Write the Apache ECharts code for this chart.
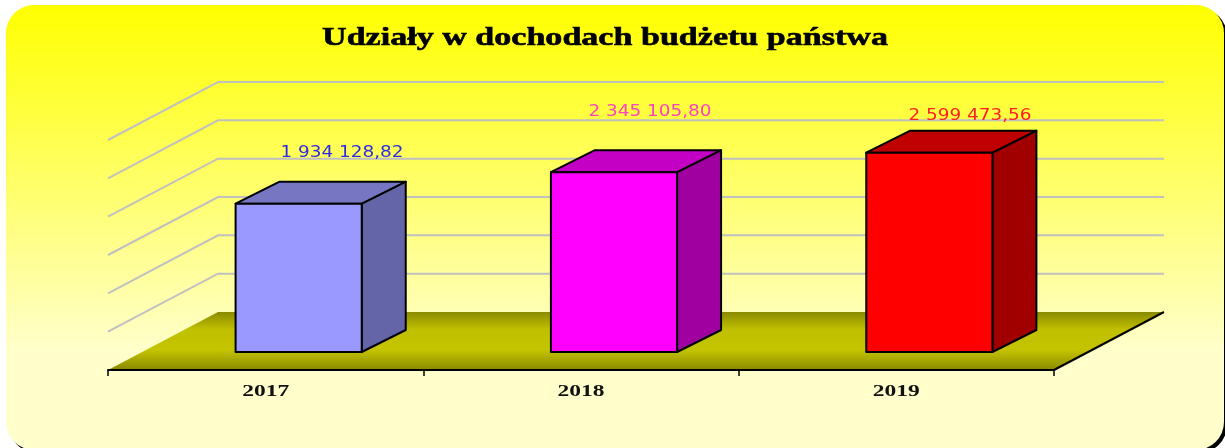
<!DOCTYPE html>
<html>
<head>
<meta charset="utf-8">
<style>html,body{margin:0;padding:0;background:#fff;overflow:hidden}#c{width:1225px;height:448px}</style>
<script src="https://cdn.jsdelivr.net/npm/echarts@6/dist/echarts.min.js"></script>
</head>
<body>
<div id="c"></div>
<script>
const titleText = 'Udziały w dochodach budżetu państwa';
const categories = ['2017', '2018', '2019'];
const values = [1934128.82, 2345105.80, 2599473.56];
const axisTicks = [0, 500000, 1000000, 1500000, 2000000, 2500000, 3000000];

const faceColors = [
  { front: '#9999FF', top: '#7676C2', side: '#6464A8', label: '#2A2AE8' },
  { front: '#FF00FF', top: '#C400C4', side: '#A000A0', label: '#FF40C0' },
  { front: '#FF0000', top: '#C00000', side: '#A00000', label: '#FF2020' }
];
const WALL = { dx: 110, dy: -58 };      // depth of the 3D floor
const BAR_OFFSET = { dx: 33, dy: -18 }; // front of a bar relative to the axis line
const BAR_DEPTH = { dx: 44, dy: -22 };
const BAR_RATIO = 0.4;
const labelPlace = [{ x: 342, y: 153 }, { x: 650, y: 112 }, { x: 970, y: 116 }];

function fmt(v) {
  const p = v.toFixed(2).split('.');
  return p[0].replace(/\B(?=(\d{3})+$)/g, ' ') + ',' + p[1];
}
const seriesData = values.map((v, i) => [i, v]);

const chart = echarts.init(document.getElementById('c'), null, { renderer: 'canvas' });
chart.setOption({
  animation: false,
  backgroundColor: '#ffffff',
  grid: { left: 108, right: 171, top: 140, bottom: 78, containLabel: false },
  xAxis: {
    type: 'category', data: categories, boundaryGap: true, z: 6,
    axisLine: { show: true, lineStyle: { color: '#000', width: 2 } },
    axisTick: { show: true, alignWithLabel: false, length: 6, lineStyle: { color: '#000', width: 1.5 } },
    axisLabel: { show: false }
  },
  yAxis: {
    type: 'value', min: 0, max: 3000000, interval: 500000,
    axisLine: { show: false }, axisTick: { show: false }, axisLabel: { show: false }, splitLine: { show: false }
  },
  graphic: [
    { type: 'rect', z: -20, silent: true, shape: { x: 9, y: 8, width: 1218, height: 445, r: 28 }, style: { fill: '#000' } },
    { type: 'rect', z: -10, silent: true, shape: { x: 6, y: 5, width: 1218, height: 445, r: 28 },
      style: { fill: { type: 'linear', x: 0, y: 0, x2: 0, y2: 1, colorStops: [
        { offset: 0, color: '#FFFF00' }, { offset: 0.78, color: '#FFFFCC' }, { offset: 1, color: '#FFFFCC' }] } } },
    { type: 'text', z: 50, silent: true, x: 605, y: 38, scaleX: 1.31,
      style: { text: titleText, font: 'bold 26px "Liberation Serif"', fill: '#000', stroke: '#000', lineWidth: 0.6, textAlign: 'center', textVerticalAlign: 'middle' } }
  ],
  series: [
    { // back and side wall gridlines
      type: 'custom', coordinateSystem: 'cartesian2d', silent: true, clip: false, z: 1,
      data: axisTicks.filter(t => t > 0).map(t => [0, t]),
      encode: { x: 0, y: 1 },
      renderItem(params, api) {
        const cs = params.coordSys;
        const y = api.coord([0, api.value(1)])[1];
        return { type: 'polyline', silent: true,
          shape: { points: [[cs.x, y], [cs.x + WALL.dx, y + WALL.dy], [cs.x + cs.width + WALL.dx, y + WALL.dy]] },
          style: { stroke: '#C0C0C0', lineWidth: 2, fill: null } };
      }
    },
    { // floor
      type: 'custom', coordinateSystem: 'cartesian2d', silent: true, clip: false, z: 2,
      data: [[0, 0]],
      encode: { x: 0, y: 1 },
      renderItem(params, api) {
        const cs = params.coordSys;
        const y = api.coord([0, 0])[1];
        const l = cs.x, r = cs.x + cs.width;
        return { type: 'group', children: [
          { type: 'polygon', shape: { points: [[l, y], [l + WALL.dx, y + WALL.dy], [r + WALL.dx, y + WALL.dy], [r, y]] },
            style: { fill: { type: 'linear', x: 0, y: 0, x2: 0, y2: 1, colorStops: [
              { offset: 0, color: '#8A8A00' }, { offset: 0.3, color: '#C0C000' }, { offset: 0.65, color: '#C4C400' }, { offset: 1, color: '#8A8A00' }] } } },
          { type: 'line', shape: { x1: r, y1: y, x2: r + WALL.dx, y2: y + WALL.dy }, style: { stroke: '#000', lineWidth: 2 } }
        ] };
      }
    },
    { // 3D bars
      type: 'custom', coordinateSystem: 'cartesian2d', silent: true, clip: false, z: 3,
      data: seriesData,
      encode: { x: 0, y: 1 },
      renderItem(params, api) {
        const i = api.value(0), v = api.value(1);
        const c = faceColors[i];
        const top = api.coord([i, v]), base = api.coord([i, 0]);
        const w = api.size([1, 0])[0] * BAR_RATIO;
        const x0 = top[0] + BAR_OFFSET.dx - w / 2, x1 = x0 + w;
        const yT = top[1] + BAR_OFFSET.dy, yB = base[1] + BAR_OFFSET.dy;
        const d = BAR_DEPTH;
        const edge = { stroke: '#000', lineWidth: 2, lineJoin: 'round' };
        return { type: 'group', children: [
          { type: 'polygon', shape: { points: [[x1, yT], [x1 + d.dx, yT + d.dy], [x1 + d.dx, yB + d.dy], [x1, yB]] }, style: Object.assign({ fill: c.side }, edge) },
          { type: 'polygon', shape: { points: [[x0, yT], [x0 + d.dx, yT + d.dy], [x1 + d.dx, yT + d.dy], [x1, yT]] }, style: Object.assign({ fill: c.top }, edge) },
          { type: 'polygon', shape: { points: [[x0, yT], [x1, yT], [x1, yB], [x0, yB]] }, style: Object.assign({ fill: c.front }, edge) }
        ] };
      }
    },
    { // value labels
      type: 'custom', coordinateSystem: 'cartesian2d', silent: true, clip: false, z: 4,
      data: seriesData,
      encode: { x: 0, y: 1 },
      renderItem(params, api) {
        const i = api.value(0);
        return { type: 'text', x: labelPlace[i].x, y: labelPlace[i].y, scaleX: 1.15,
          style: { text: fmt(api.value(1)), font: '16px "DejaVu Sans"', fill: faceColors[i].label, textAlign: 'center', textVerticalAlign: 'middle' } };
      }
    },
    { // category labels
      type: 'custom', coordinateSystem: 'cartesian2d', silent: true, clip: false, z: 4,
      data: categories.map((c, i) => [i, 0]),
      encode: { x: 0, y: 1 },
      renderItem(params, api) {
        const i = api.value(0);
        const p = api.coord([i, 0]);
        return { type: 'text', x: p[0], y: p[1] + 22, scaleX: 1.47,
          style: { text: categories[i], font: 'bold 16px "Liberation Serif"', fill: '#111', textAlign: 'center', textVerticalAlign: 'middle' } };
      }
    }
  ]
});
</script>
</body>
</html>
